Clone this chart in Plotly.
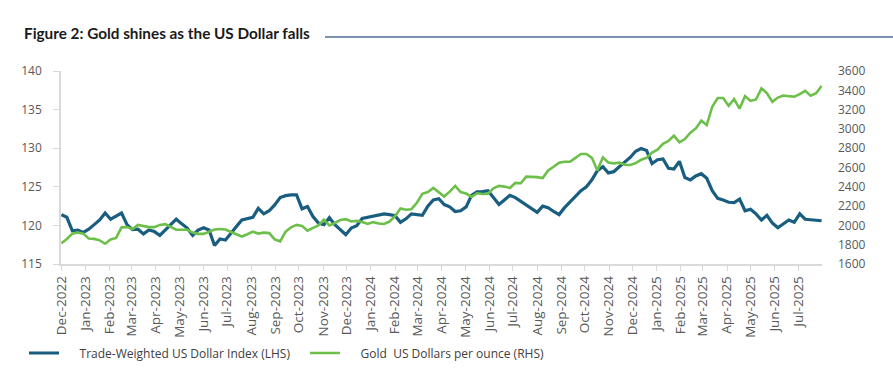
import plotly.graph_objects as go
import pandas as pd

# Weekly observations (Thursdays), Dec-2022 .. Jul-2025
start_date = "2022-12-01"
n_weeks = 140

usd_index = [
    121.4, 121.05, 119.3, 119.4, 119.1, 119.5, 120.1, 120.7, 121.6, 120.8,
    121.2, 121.6, 120.1, 119.45, 119.5, 118.9, 119.4, 119.2, 118.7, 119.4,
    120.1, 120.8, 120.2, 119.65, 118.7, 119.4, 119.7, 119.4, 117.4, 118.25,
    118.1, 118.9, 119.85, 120.7, 120.85, 121.05, 122.2, 121.5, 121.9, 122.65,
    123.6, 123.85, 123.95, 123.95, 122.15, 122.45, 121.15, 120.3, 120.1, 121.0,
    120.1, 119.5, 118.8, 119.65, 119.95, 120.9, 121.05, 121.25, 121.45, 121.5,
    121.4, 121.25, 120.4, 120.85, 121.5, 121.35, 121.3, 122.5, 123.3, 123.45,
    122.7, 122.4, 121.8, 121.9, 122.4, 123.9, 124.35, 124.38, 124.5, 123.6,
    122.7, 123.3, 123.9, 123.6, 123.1, 122.6, 122.1, 121.7, 122.5, 122.3,
    121.8, 121.4, 122.3, 123.0, 123.8, 124.5, 125.0, 125.9, 127.1, 127.6,
    126.8, 126.96, 127.6, 128.2, 128.8, 129.6, 129.95, 129.7, 128.0, 128.5,
    128.6, 127.4, 127.3, 128.3, 126.2, 125.9, 126.4, 126.7, 126.1, 124.5,
    123.5, 123.3, 123.0, 122.96, 123.4, 121.9, 122.1, 121.5, 120.7, 121.3,
    120.3, 119.7, 120.2, 120.7, 120.4, 121.5, 120.8, 120.7, 120.7, 120.6,
]

gold_usd = [
    1815, 1860, 1915, 1926, 1915, 1865, 1860, 1845, 1810, 1855,
    1870, 1980, 1982, 1962, 2005, 1996, 1982, 1982, 2005, 2013,
    1985, 1955, 1955, 1955, 1925, 1912, 1912, 1932, 1958, 1962,
    1958, 1932, 1905, 1885, 1908, 1935, 1915, 1925, 1920, 1855,
    1835, 1935, 1980, 2005, 1995, 1945, 1975, 2000, 2060, 2000,
    2025, 2055, 2065, 2040, 2047, 2035, 2015, 2034, 2020, 2015,
    2040, 2095, 2175, 2162, 2168, 2235, 2328, 2345, 2388, 2345,
    2300, 2350, 2409, 2345, 2330, 2295, 2333, 2325, 2328, 2385,
    2410, 2402, 2388, 2440, 2437, 2505, 2505, 2500, 2490, 2570,
    2608, 2650, 2660, 2660, 2700, 2740, 2740, 2700, 2570, 2705,
    2652, 2643, 2650, 2628, 2626, 2645, 2680, 2700, 2755, 2785,
    2845, 2875, 2930, 2860, 2895, 2960, 3005, 3085, 3040, 3230,
    3320, 3320, 3240, 3310, 3210, 3340, 3290, 3305, 3420, 3370,
    3280, 3325, 3345, 3342, 3333, 3360, 3395, 3345, 3370, 3445,
]

dates = pd.date_range(start_date, periods=n_weeks, freq="7D")

usd_name = "Trade-Weighted US Dollar Index (LHS)"
gold_name = "Gold\u00a0 US Dollars per ounce (RHS)"
title_text = "Figure 2: Gold shines as the US Dollar falls"

blue = "#195e80"
green = "#6cc04a"
grey_text = "#595959"
axis_grey = "#d9d9d9"
font_family = "'Open Sans', Lato, sans-serif"
title_family = "Lato, 'Open Sans', sans-serif"
pad_txt = "\u00a0" * 5

fig = go.Figure()
fig.add_trace(go.Scatter(
    x=dates, y=usd_index, name=pad_txt + usd_name, mode="lines",
    line=dict(color=blue, width=3.2), yaxis="y",
))
fig.add_trace(go.Scatter(
    x=dates, y=gold_usd, name=pad_txt + gold_name, mode="lines",
    line=dict(color=green, width=2.6), yaxis="y2",
))

W, H = 893, 386
L, R, T, B = 61, 71, 71, 122
pw = W - L - R
ph = H - T - B

fig.update_layout(
    width=W, height=H,
    margin=dict(l=L, r=R, t=T, b=B, pad=0, autoexpand=False),
    paper_bgcolor="white", plot_bgcolor="white",
    font=dict(family=font_family, color=grey_text, size=12),
    title=dict(
        text="<b>" + title_text + "</b>",
        xref="container", yref="container",
        x=24 / W, xanchor="left",
        y=1 - 34 / H, yanchor="middle",
        pad=dict(l=0, r=0, t=0, b=0),
        font=dict(size=15.3, color="#1a1a1a", family=title_family),
        automargin=False,
    ),
    showlegend=True,
    legend=dict(
        orientation="h",
        xref="container", yref="container",
        x=24 / W, xanchor="left",
        y=1 - 353 / H, yanchor="middle",
        font=dict(size=12, color="#404040"),
        entrywidth=236, entrywidthmode="pixels",
        bgcolor="rgba(0,0,0,0)",
        itemwidth=30,
    ),
    xaxis=dict(
        type="date", automargin=False,
        range=["2022-11-30 12:00", "2025-07-31 12:00"],
        dtick="M1", tick0="2022-12-01",
        tickformat="%b-%Y", tickangle=-90,
        ticks="outside", ticklen=5, tickcolor=axis_grey, tickwidth=1,
        showline=True, linecolor=axis_grey, linewidth=1.5,
        showgrid=False, zeroline=False,
        tickfont=dict(size=13.5, color=grey_text),
    ),
    yaxis=dict(
        range=[115, 140], dtick=5, automargin=False,
        ticks="outside", ticklen=6, tickcolor=axis_grey,
        showline=True, linecolor=axis_grey, linewidth=1.5,
        showgrid=False, zeroline=False,
        tickfont=dict(size=12, color=grey_text),
        ticklabelstandoff=9,
    ),
    yaxis2=dict(
        range=[1600, 3600], dtick=200, automargin=False,
        overlaying="y", side="right",
        showline=False, showgrid=False, zeroline=False, ticks="",
        tickfont=dict(size=12, color=grey_text),
        ticklabelstandoff=15,
    ),
    shapes=[dict(
        type="line", xref="paper", yref="paper",
        x0=(325 - L) / pw, x1=(W - L) / pw,
        y0=(H - B - 37) / ph, y1=(H - B - 37) / ph,
        line=dict(color="#4d6f94", width=1.5),
    )],
)

fig.write_html("out.html", config={"displayModeBar": False},
               post_script="document.body.style.margin='0';")
